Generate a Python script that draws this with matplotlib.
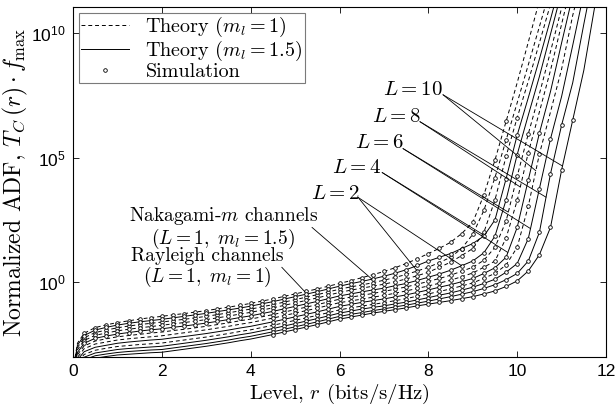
import numpy as np
import matplotlib.pyplot as plt
from matplotlib.lines import Line2D
from matplotlib.ticker import FixedLocator, NullLocator, FixedFormatter

plt.rcParams['mathtext.fontset'] = 'cm'
plt.rcParams['font.family'] = 'Liberation Sans'
plt.rcParams['axes.unicode_minus'] = False
SERIF = 'cmr10'

# level grid of the slowly rising part, shared by every curve (bits/s/Hz)
r_mid = [0.02, 0.1] + [0.25 * i for i in range(1, 33)]
# level grid of the steep part near the capacity limit
r_tail = [8.25 + 0.25 * i for i in range(16)]

# log10 of the normalized ADF; m_l = 1 (dashed)
mid_d1 = [-3.30, -2.45, -2.05, -1.82, -1.71, -1.62, -1.55, -1.48, -1.42, -1.37, -1.31, -1.26, -1.20, -1.14, -1.07, -1.00, -0.93,
          -0.85, -0.76, -0.67, -0.57, -0.47, -0.37, -0.27, -0.16, -0.05, 0.06, 0.18, 0.30, 0.43, 0.58, 0.75, 0.94, 1.15]
mid_d2 = [-3.44, -2.62, -2.23, -2.02, -1.92, -1.83, -1.76, -1.70, -1.65, -1.60, -1.54, -1.49, -1.43, -1.37, -1.30, -1.23, -1.15,
          -1.08, -0.99, -0.90, -0.80, -0.70, -0.60, -0.50, -0.39, -0.28, -0.19, -0.11, -0.02, 0.08, 0.19, 0.31, 0.45, 0.60]
mid_d4 = [-3.53, -2.71, -2.34, -2.13, -2.04, -1.95, -1.89, -1.83, -1.78, -1.73, -1.67, -1.62, -1.56, -1.50, -1.43, -1.36, -1.28,
          -1.21, -1.12, -1.03, -0.93, -0.83, -0.73, -0.63, -0.52, -0.41, -0.32, -0.24, -0.16, -0.08, 0.02, 0.13, 0.26, 0.40]
mid_d6 = [-3.70, -2.91, -2.56, -2.36, -2.27, -2.19, -2.14, -2.09, -2.04, -2.00, -1.94, -1.89, -1.83, -1.77, -1.70, -1.63, -1.55,
          -1.48, -1.39, -1.30, -1.20, -1.10, -1.00, -0.90, -0.79, -0.68, -0.60, -0.53, -0.45, -0.37, -0.28, -0.19, -0.08, 0.03]
mid_d8 = [-3.79, -3.02, -2.67, -2.48, -2.40, -2.32, -2.27, -2.23, -2.19, -2.15, -2.09, -2.03, -1.97, -1.91, -1.84, -1.77, -1.69,
          -1.62, -1.53, -1.44, -1.34, -1.24, -1.14, -1.04, -0.93, -0.82, -0.75, -0.68, -0.60, -0.53, -0.44, -0.35, -0.25, -0.15]
mid_d10 = [-3.97, -3.23, -2.90, -2.73, -2.65, -2.58, -2.54, -2.50, -2.47, -2.44, -2.38, -2.32, -2.26, -2.20, -2.13, -2.06, -1.98,
           -1.91, -1.82, -1.73, -1.63, -1.53, -1.43, -1.33, -1.22, -1.11, -1.03, -0.96, -0.89, -0.82, -0.74, -0.66, -0.56, -0.47]

# m_l = 1.5 (solid)
mid_s1 = [-3.37, -2.53, -2.14, -1.92, -1.81, -1.72, -1.65, -1.59, -1.54, -1.49, -1.43, -1.37, -1.31, -1.25, -1.18, -1.11, -1.04,
          -0.96, -0.87, -0.78, -0.68, -0.58, -0.48, -0.38, -0.27, -0.16, -0.06, 0.03, 0.13, 0.24, 0.36, 0.50, 0.67, 0.85]
mid_s2 = [-3.62, -2.82, -2.45, -2.25, -2.16, -2.08, -2.02, -1.96, -1.91, -1.87, -1.81, -1.76, -1.70, -1.64, -1.57, -1.50, -1.42,
          -1.35, -1.26, -1.17, -1.07, -0.97, -0.87, -0.77, -0.66, -0.55, -0.47, -0.39, -0.31, -0.24, -0.14, -0.05, 0.07, 0.20]
mid_s4 = [-3.88, -3.12, -2.79, -2.61, -2.53, -2.45, -2.40, -2.36, -2.32, -2.29, -2.23, -2.18, -2.12, -2.06, -1.99, -1.92, -1.84,
          -1.77, -1.68, -1.59, -1.49, -1.39, -1.29, -1.19, -1.08, -0.97, -0.89, -0.81, -0.74, -0.67, -0.59, -0.51, -0.41, -0.31]
mid_s6 = [-4.05, -3.32, -3.01, -2.84, -2.77, -2.70, -2.66, -2.63, -2.60, -2.57, -2.51, -2.45, -2.39, -2.33, -2.26, -2.19, -2.11,
          -2.04, -1.95, -1.86, -1.76, -1.66, -1.56, -1.46, -1.35, -1.24, -1.16, -1.08, -1.01, -0.95, -0.87, -0.80, -0.71, -0.62]
mid_s8 = [-4.13, -3.42, -3.11, -2.95, -2.88, -2.82, -2.78, -2.75, -2.72, -2.70, -2.64, -2.58, -2.52, -2.46, -2.39, -2.32, -2.24,
          -2.17, -2.08, -1.99, -1.89, -1.79, -1.69, -1.59, -1.48, -1.37, -1.29, -1.22, -1.14, -1.07, -0.99, -0.92, -0.84, -0.76]
mid_s10 = [-4.20, -3.50, -3.20, -3.05, -2.98, -2.92, -2.89, -2.86, -2.83, -2.81, -2.75, -2.69, -2.63, -2.57, -2.50, -2.43, -2.35,
           -2.28, -2.19, -2.10, -2.00, -1.90, -1.80, -1.70, -1.59, -1.48, -1.40, -1.32, -1.24, -1.17, -1.10, -1.03, -0.95, -0.88]

# steep part, log10 values on r_tail (each stops once it is off the top)
tail_d1 = [1.36, 1.6, 1.95, 2.4, 3.5, 4.9, 6.45, 8.0, 9.63, 11.3, 13.0]
tail_d2 = [0.79, 1.0, 1.35, 1.92, 2.88, 4.2, 5.7, 7.2, 8.72, 10.25, 11.8]
tail_d4 = [0.6, 0.8, 1.07, 1.35, 2.0, 3.3, 5.05, 6.6, 8.06, 9.6, 11.15, 12.7]
tail_d6 = [0.15, 0.28, 0.44, 0.6, 0.88, 1.4, 2.45, 4.25, 5.95, 7.55, 9.25, 11.0, 12.8]
tail_d8 = [-0.04, 0.08, 0.22, 0.37, 0.6, 0.85, 1.77, 3.28, 5.2, 6.83, 8.5, 10.35, 12.2]
tail_d10 = [-0.37, -0.27, -0.15, -0.03, 0.16, 0.35, 0.69, 1.4, 3.05, 5.14, 6.83, 8.55, 10.7, 12.5]
tail_s1 = [1.0, 1.15, 1.35, 1.55, 1.85, 2.5, 4.15, 5.9, 7.4, 8.95, 10.55, 12.2]
tail_s2 = [0.33, 0.48, 0.66, 0.85, 1.18, 1.85, 3.3, 5.12, 6.7, 8.25, 9.95, 11.65]
tail_s4 = [-0.2, -0.1, 0.02, 0.15, 0.35, 0.58, 1.0, 2.2, 4.1, 5.98, 7.65, 9.6, 11.5]
tail_s6 = [-0.52, -0.43, -0.32, -0.2, -0.05, 0.12, 0.4, 0.75, 1.75, 3.75, 5.75, 7.45, 9.5, 11.6]
tail_s8 = [-0.67, -0.58, -0.48, -0.38, -0.25, -0.1, 0.1, 0.35, 0.85, 2.0, 4.35, 6.3, 8.0, 10.35, 12.6]
tail_s10 = [-0.81, -0.74, -0.66, -0.58, -0.47, -0.35, -0.17, 0.05, 0.45, 1.1, 2.2, 4.5, 6.5, 8.5, 11.1, 13.5]

# (L, mid part, tail part, m_l = 1?, first simulated level)
curves = [
    (1, mid_d1, tail_d1, True, 0.25),
    (2, mid_d2, tail_d2, True, 0.25),
    (4, mid_d4, tail_d4, True, 0.25),
    (6, mid_d6, tail_d6, True, 4.5),
    (8, mid_d8, tail_d8, True, 4.5),
    (10, mid_d10, tail_d10, True, 4.5),
    (1, mid_s1, tail_s1, False, 0.25),
    (2, mid_s2, tail_s2, False, 0.25),
    (4, mid_s4, tail_s4, False, 4.5),
    (6, mid_s6, tail_s6, False, 4.5),
    (8, mid_s8, tail_s8, False, 4.5),
    (10, mid_s10, tail_s10, False, 4.5),
]

fig = plt.figure(figsize=(6.16, 4.07), dpi=100)
ax = fig.add_axes([0.1185, 0.1229, 0.8653, 0.86])

lines = {}
for L, mid, tail, dashed, r_sim in curves:
    r = np.array(r_mid + r_tail[:len(tail)])
    lg = np.array(mid + tail)
    y = 10.0 ** lg
    if dashed:
        ax.plot(r, y, color='k', lw=0.7, dashes=(4, 3))
    else:
        ax.plot(r, y, color='k', lw=0.7)
    keep = (r >= r_sim) & (lg <= 6.6)
    ax.plot(r[keep], y[keep], 'o', color='k', ms=2.6, mew=0.6, mfc='white',
            ls='none')
    lines[(L, dashed)] = (r, lg)


def on_curve(L, dashed, r0):
    r, lg = lines[(L, dashed)]
    return (r0, 10.0 ** np.interp(r0, r, lg))


lead = dict(arrowstyle='-', lw=0.6, color='k', shrinkA=0, shrinkB=0)

# L labels: text centre, leader start, level hit on m_l=1 and m_l=1.5 curves
labels = [(2, 5.9, 3.56, 6.42, 3.4, 7.75, 8.75),
          (4, 6.39, 4.6, 6.96, 4.4, 9.22, 9.79),
          (6, 6.91, 5.6, 7.43, 5.36, 9.8, 10.3),
          (8, 7.29, 6.64, 7.81, 6.44, 10.07, 10.65),
          (10, 7.65, 7.72, 8.33, 7.52, 10.42, 11.02)]
for L, tx, ty, sx, sy, rd, rs in labels:
    ax.text(tx, 10 ** ty, r'$L = %d$' % L, fontsize=15, ha='center',
            va='center')
    ax.annotate('', xy=on_curve(L, True, rd), xytext=(sx, 10 ** sy),
                arrowprops=lead)
    ax.annotate('', xy=on_curve(L, False, rs), xytext=(sx, 10 ** sy),
                arrowprops=lead)

ax.text(3.38, 10 ** 2.16, 'Nakagami-$m$ channels\n' + r'$(L = 1,\ m_l = 1.5)$',
        fontsize=14, family=SERIF, ha='center', va='center', linespacing=1.0)
ax.annotate('', xy=on_curve(1, False, 6.73), xytext=(5.38, 10 ** 2.2),
            arrowprops=lead)
ax.text(3.02, 10 ** 0.56, 'Rayleigh channels\n' + r'$(L = 1,\ m_l = 1)$',
        fontsize=14, family=SERIF, ha='center', va='center', linespacing=1.0)
ax.annotate('', xy=on_curve(1, True, 5.22), xytext=(4.7, 10 ** 0.6),
            arrowprops=lead)

ax.set_yscale('log')
ax.set_xlim(0, 12)
ax.set_ylim(1e-3, 1.1e11)
ax.xaxis.set_major_locator(FixedLocator([0, 2, 4, 6, 8, 10, 12]))
ax.xaxis.set_major_formatter(FixedFormatter(['0', '2', '4', '6', '8', '10', '12']))
ax.yaxis.set_major_locator(FixedLocator([1e0, 1e5, 1e10]))
ax.yaxis.set_major_formatter(FixedFormatter([r'$\mathregular{10^{0}}$', r'$\mathregular{10^{5}}$',
                                             r'$\mathregular{10^{10}}$']))
ax.yaxis.set_minor_locator(NullLocator())
ax.tick_params(direction='in', top=True, right=True, length=4, width=0.6,
               labelsize=12.5, pad=5)
for sp in ax.spines.values():
    sp.set_linewidth(0.8)

ax.set_xlabel(r'Level, $r$ (bits/s/Hz)', fontsize=15, family=SERIF,
              labelpad=2)
ax.set_ylabel(r'Normalized ADF, $T_C\,(r)\cdot f_{\max}$', fontsize=17,
              family=SERIF, labelpad=1)

handles = [Line2D([], [], color='k', lw=0.7, dashes=(4, 3)),
           Line2D([], [], color='k', lw=0.7),
           Line2D([], [], color='k', ls='none', marker='o', ms=2.6, mew=0.6,
                  mfc='white')]
leg = ax.legend(handles, [r'Theory $(m_l = 1)$', r'Theory $(m_l = 1.5)$',
                          'Simulation'],
                loc='upper left', prop={'family': SERIF, 'size': 14.5},
                frameon=True, fancybox=False, borderpad=0.1,
                labelspacing=0.0, handlelength=2.4, handletextpad=0.8,
                borderaxespad=0.3)
leg.get_frame().set_edgecolor('0.35')
leg.get_frame().set_linewidth(0.8)

fig.savefig('out.png', dpi=100)
